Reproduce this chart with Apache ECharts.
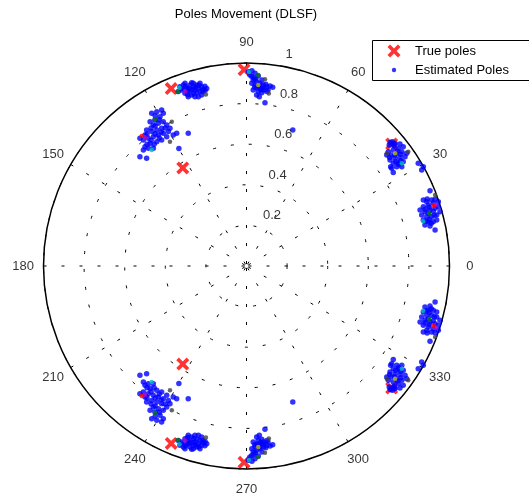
<!DOCTYPE html>
<html>
<head>
<meta charset="utf-8">
<script src="https://cdn.jsdelivr.net/npm/echarts@6/dist/echarts.min.js"></script>
<style>
  html, body { margin: 0; padding: 0; background: #ffffff; }
  #chart { width: 529px; height: 498px; }
</style>
</head>
<body>
<div id="chart"></div>
<script>
// Pole locations in the z-plane as [real, imag].
const truePoles = [
  [-0.012, 0.967], [-0.012, -0.967],
  [-0.371, 0.874], [-0.371, -0.874],
  [-0.314, 0.483], [-0.314, -0.483],
  [0.715, 0.601], [0.715, -0.601]
];

// Estimated poles, upper half plane (each comes with its complex conjugate).
const polesNear87 = [
  [0.009, 0.957], [0.017, 0.941], [0.026, 0.933], [0.033, 0.916], [0.050, 0.908],
  [0.042, 0.892], [0.058, 0.883], [0.067, 0.900], [0.075, 0.875], [0.083, 0.892],
  [0.100, 0.883], [0.116, 0.887], [0.129, 0.880], [0.058, 0.859], [0.075, 0.854],
  [0.050, 0.842], [0.033, 0.867], [0.026, 0.900], [0.042, 0.949], [0.058, 0.936],
  [0.083, 0.867], [0.100, 0.859], [0.063, 0.834], [0.091, 0.804], [0.037, 0.926],
  [0.052, 0.877], [0.076, 0.916], [0.106, 0.867], [0.027, 0.962], [0.045, 0.920],
  [0.065, 0.890], [0.085, 0.878], [0.095, 0.895], [0.070, 0.870], [0.040, 0.880]
];
const polesNear107 = [
  [-0.336, 0.859], [-0.328, 0.883], [-0.319, 0.867], [-0.311, 0.892], [-0.303, 0.900],
  [-0.295, 0.875], [-0.287, 0.859], [-0.278, 0.892], [-0.270, 0.903], [-0.262, 0.883],
  [-0.254, 0.867], [-0.245, 0.892], [-0.237, 0.875], [-0.229, 0.859], [-0.221, 0.883],
  [-0.213, 0.870], [-0.204, 0.864], [-0.270, 0.842], [-0.254, 0.834], [-0.287, 0.834],
  [-0.237, 0.834], [-0.221, 0.842], [-0.303, 0.851], [-0.278, 0.867], [-0.245, 0.854],
  [-0.262, 0.900], [-0.229, 0.900], [-0.196, 0.875], [-0.320, 0.875], [-0.300, 0.885],
  [-0.285, 0.875], [-0.265, 0.870], [-0.250, 0.880], [-0.235, 0.890], [-0.215, 0.860],
  [-0.205, 0.885], [-0.290, 0.845], [-0.260, 0.850]
];
const polesNear125 = [
  [-0.467, 0.752], [-0.442, 0.760], [-0.418, 0.768], [-0.410, 0.752], [-0.426, 0.735],
  [-0.451, 0.719], [-0.475, 0.711], [-0.459, 0.695], [-0.434, 0.703], [-0.410, 0.711],
  [-0.393, 0.695], [-0.418, 0.678], [-0.442, 0.670], [-0.467, 0.662], [-0.492, 0.670],
  [-0.500, 0.645], [-0.525, 0.629], [-0.508, 0.621], [-0.484, 0.629], [-0.459, 0.637],
  [-0.434, 0.645], [-0.410, 0.654], [-0.385, 0.662], [-0.377, 0.678], [-0.361, 0.645],
  [-0.393, 0.637], [-0.418, 0.621], [-0.442, 0.612], [-0.475, 0.604], [-0.500, 0.588],
  [-0.508, 0.571], [-0.484, 0.580], [-0.459, 0.580], [-0.525, 0.538], [-0.492, 0.531],
  [-0.287, 0.654], [-0.344, 0.654], [-0.333, 0.579], [-0.450, 0.740], [-0.430, 0.720],
  [-0.450, 0.690], [-0.470, 0.680], [-0.490, 0.650], [-0.450, 0.650], [-0.420, 0.660],
  [-0.400, 0.680], [-0.470, 0.620], [-0.430, 0.630], [-0.490, 0.600], [-0.455, 0.600]
];
const polesNear36 = [
  [0.732, 0.604], [0.756, 0.601], [0.772, 0.588], [0.748, 0.580], [0.723, 0.571],
  [0.699, 0.563], [0.691, 0.547], [0.715, 0.547], [0.740, 0.555], [0.765, 0.563],
  [0.789, 0.555], [0.781, 0.538], [0.756, 0.535], [0.732, 0.531], [0.707, 0.522],
  [0.723, 0.506], [0.748, 0.509], [0.772, 0.514], [0.765, 0.489], [0.740, 0.489],
  [0.715, 0.481], [0.723, 0.460], [0.846, 0.506], [0.871, 0.489], [0.710, 0.489],
  [0.863, 0.473], [0.718, 0.612], [0.703, 0.596], [0.726, 0.592], [0.745, 0.565],
  [0.760, 0.550], [0.730, 0.545], [0.705, 0.535], [0.760, 0.520], [0.735, 0.515],
  [0.750, 0.500], [0.708, 0.608], [0.728, 0.600]
];
const polesNear17 = [
  [0.904, 0.371], [0.871, 0.325], [0.888, 0.317], [0.912, 0.325], [0.929, 0.329],
  [0.896, 0.300], [0.871, 0.292], [0.855, 0.276], [0.879, 0.267], [0.904, 0.276],
  [0.929, 0.284], [0.945, 0.292], [0.953, 0.267], [0.937, 0.251], [0.912, 0.243],
  [0.888, 0.243], [0.863, 0.251], [0.871, 0.227], [0.896, 0.218], [0.920, 0.218],
  [0.937, 0.227], [0.879, 0.202], [0.904, 0.197], [0.929, 0.177], [0.945, 0.317],
  [0.890, 0.330], [0.920, 0.310], [0.900, 0.290], [0.880, 0.280], [0.920, 0.270],
  [0.895, 0.260], [0.925, 0.250], [0.900, 0.230], [0.885, 0.220], [0.910, 0.210]
];
const polesStray = [[0.228, 0.670]];

// Estimates from the other runs, drawn in the remaining line colours.
const runGray = [[0.091, 0.920], [-0.368, 0.711], [-0.377, 0.612], [0.797, 0.563], [0.691, 0.555], [0.929, 0.350], [-0.200, 0.845], [0.110, 0.850]];
const runCyan = [[0.012, 0.956], [0.765, 0.506], [-0.467, 0.571], [-0.330, 0.878], [0.870, 0.220]];
const runGreen = [[-0.337, 0.857], [-0.451, 0.723], [0.058, 0.941], [0.900, 0.260]];
const runMagenta = [[-0.500, 0.634], [-0.303, 0.859], [0.930, 0.300]];
const runYellow = [[0.058, 0.892], [0.732, 0.555]];
const runRed = [[-0.516, 0.640], [0.920, 0.296]];

// Polar grid annotations.
const angleTicks = [0, 30, 60, 90, 120, 150, 180, 210, 240, 270, 300, 330];
const radiusTicks = [0.2, 0.4, 0.6, 0.8, 1];

const FONT = '"Liberation Sans", Arial, Helvetica, sans-serif';

function toPolar(p) {
  let a = Math.atan2(p[1], p[0]) * 180 / Math.PI;
  if (a < 0) a += 360;
  return [Math.hypot(p[0], p[1]), a];
}
function withConjugates(list) {
  return list.concat(list.map(p => [p[0], -p[1]]));
}

const estimated = withConjugates([].concat(
  polesNear87, polesNear107, polesNear125, polesNear36, polesNear17, polesStray
)).map(toPolar);

const X_SYMBOL = 'path://M0 2.6L2.6 0L6.5 3.9L10.4 0L13 2.6L9.1 6.5L13 10.4L10.4 13L6.5 9.1L2.6 13L0 10.4L3.9 6.5Z';
const X_ICON = 'path://M0 0M32 14M9.5 3.1L12.1 0.5L16 4.4L19.9 0.5L22.5 3.1L18.6 7L22.5 10.9L19.9 13.5L16 9.6L12.1 13.5L9.5 10.9L13.4 7Z';
const DOT_ICON = 'path://M0 0M32 14M16 4.8A2.2 2.2 0 1 1 16 9.2A2.2 2.2 0 1 1 16 4.8Z';

function runSeries(list, color) {
  return {
    type: 'scatter', coordinateSystem: 'polar', symbol: 'circle', symbolSize: 4.5,
    itemStyle: { color: color }, silent: true,
    data: withConjugates(list).map(toPolar)
  };
}

const chart = echarts.init(document.getElementById('chart'), null, { renderer: 'canvas' });
chart.setOption({
  animation: false,
  backgroundColor: '#ffffff',
  title: {
    text: 'Poles Movement (DLSF)', left: 246, top: 8, textAlign: 'center', padding: 0,
    textStyle: { fontSize: 13, fontWeight: 'normal', color: '#000', fontFamily: FONT }
  },
  // legend frame runs past the right edge of the canvas
  graphic: [{
    type: 'rect', z: 1, silent: true,
    shape: { x: 372.5, y: 40.5, width: 220, height: 40 },
    style: { fill: '#fff', stroke: '#000', lineWidth: 1 }
  }],
  legend: {
    data: [{ name: 'True poles', icon: X_ICON }, { name: 'Estimated Poles', icon: DOT_ICON }],
    orient: 'vertical', left: 372, top: 40, z: 5,
    itemWidth: 32, itemHeight: 14, itemGap: 5,
    padding: [4, 6, 4, 6],
    borderWidth: 0, backgroundColor: 'transparent',
    selectedMode: false,
    textStyle: { fontSize: 13, color: '#000', fontFamily: FONT }
  },
  polar: { center: [246.5, 266], radius: 203 },
  angleAxis: {
    type: 'value', min: 0, max: 360, interval: 30, startAngle: 0, clockwise: false,
    axisLine: { show: true, lineStyle: { color: '#000', width: 1.5 } },
    axisTick: { show: false }, axisLabel: { show: false },
    splitLine: { show: true, lineStyle: { color: '#000', width: 1, type: [3, 15] } }
  },
  radiusAxis: {
    type: 'value', min: 0, max: 1, interval: 0.2,
    axisLine: { show: false }, axisTick: { show: false }, axisLabel: { show: false },
    splitLine: { show: true, lineStyle: { color: '#000', width: 1, type: [3, 15] } }
  },
  series: [
    {
      name: 'True poles', type: 'scatter', coordinateSystem: 'polar',
      symbol: X_SYMBOL, symbolSize: 13, itemStyle: { color: '#ff0000' }, silent: true,
      data: truePoles.map(toPolar)
    },
    {
      name: 'Estimated Poles', type: 'scatter', coordinateSystem: 'polar',
      symbol: 'circle', symbolSize: 5.5, itemStyle: { color: '#0000ff' }, silent: true,
      data: estimated
    },
    runSeries(runGray, '#404040'),
    runSeries(runCyan, '#00bfbf'),
    runSeries(runGreen, '#008000'),
    runSeries(runMagenta, '#bf00bf'),
    runSeries(runYellow, '#bfbf00'),
    runSeries(runRed, '#ff0000'),
    {
      // angle labels just outside the rim
      type: 'scatter', coordinateSystem: 'polar', symbolSize: 0, clip: false, silent: true,
      data: angleTicks.map(a => [1.1, a, String(a)]),
      label: {
        show: true, position: 'inside', formatter: p => p.value[2],
        color: '#000', fontSize: 13, fontFamily: FONT
      }
    },
    {
      // radius labels along the 82 degree ray
      type: 'scatter', coordinateSystem: 'polar', symbolSize: 0, clip: false, silent: true,
      data: radiusTicks.map(r => [r + 0.01, 82, String(r)]),
      label: {
        show: true, position: 'inside', align: 'left', verticalAlign: 'middle',
        offset: [10.5, -8.5], formatter: p => p.value[2],
        color: '#000', fontSize: 13, fontFamily: FONT
      }
    }
  ]
});
</script>
</body>
</html>
